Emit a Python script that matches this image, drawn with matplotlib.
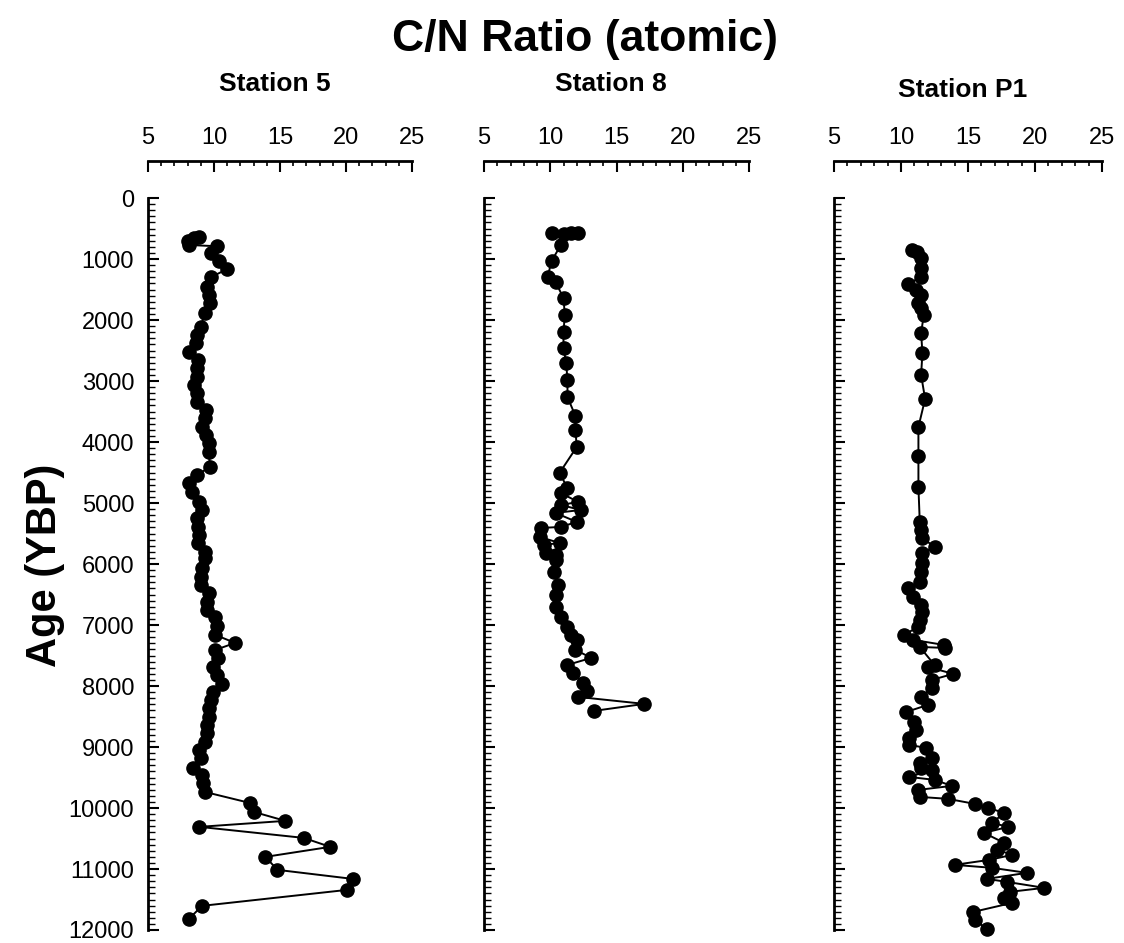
import matplotlib
matplotlib.use("Agg")
import matplotlib.pyplot as plt
from matplotlib.ticker import MultipleLocator, FixedLocator

plt.rcParams['font.family'] = ['Liberation Sans', 'DejaVu Sans']

# ---- data: (C/N ratio, age YBP) ----
st5_cn = [8.9, 8.5, 8.0, 8.1, 10.2, 9.8, 10.4, 11.0, 9.8, 9.5, 9.6, 9.7, 9.3, 9.0, 8.7, 8.6, 8.1,
          8.8, 8.7, 8.7, 8.5, 8.7, 8.7, 9.4, 9.3, 9.1, 9.4, 9.6, 9.6, 9.7, 8.7, 8.1, 8.3, 8.9,
          9.1, 8.7, 8.8, 8.9, 8.8, 9.3, 9.3, 9.1, 9.0, 9.0, 9.6, 9.5, 9.5, 10.1, 10.2, 10.1,
          11.6, 10.1, 10.3, 9.9, 10.2, 10.6, 9.9, 9.8, 9.6, 9.6, 9.5, 9.5, 9.3, 8.9, 9.0, 8.4,
          9.1, 9.2, 9.3, 12.7, 13.0, 15.4, 8.9, 16.8, 18.8, 13.9, 14.8, 20.5, 20.1, 9.1, 8.1]
st5_age = [640, 660, 700, 770, 790, 901, 1033, 1164, 1295, 1459, 1590, 1721, 1885, 2114, 2245,
           2377, 2524, 2655, 2786, 2934, 3065, 3196, 3343, 3475, 3606, 3753, 3884, 4015, 4163,
           4409, 4540, 4671, 4819, 4983, 5114, 5245, 5392, 5523, 5655, 5802, 5900, 6064, 6212,
           6343, 6474, 6622, 6753, 6867, 7015, 7162, 7294, 7408, 7539, 7687, 7818, 7965, 8097,
           8228, 8359, 8507, 8638, 8769, 8916, 9047, 9178, 9342, 9457, 9588, 9736, 9916, 10063,
           10211, 10309, 10490, 10637, 10801, 11014, 11162, 11342, 11604, 11817]

st8_cn = [10.1, 11.6, 12.1, 11.0, 10.8, 10.1, 9.8, 10.4, 11.0, 11.1, 11.0, 11.0, 11.2, 11.3,
          11.3, 11.9, 11.9, 12.0, 10.7, 11.3, 10.8, 12.1, 10.8, 12.3, 10.4, 12.0, 10.8, 9.3,
          9.2, 10.7, 9.5, 9.7, 10.4, 10.4, 10.3, 10.6, 10.4, 10.4, 10.8, 11.3, 11.6, 12.0,
          11.9, 13.1, 11.3, 11.7, 12.5, 12.8, 12.1, 17.1, 13.3]
st8_age = [570, 575, 580, 585, 770, 1033, 1295, 1377, 1639, 1918, 2196, 2459, 2704, 2983,
           3262, 3573, 3802, 4081, 4507, 4753, 4835, 4983, 5032, 5114, 5163, 5310, 5392, 5409,
           5556, 5655, 5687, 5818, 5851, 5933, 6130, 6343, 6507, 6703, 6867, 7031, 7162, 7244,
           7408, 7539, 7654, 7785, 7949, 8080, 8179, 8293, 8408]

stp1_cn = [10.8, 11.2, 11.5, 11.5, 11.5, 10.5, 11.1, 11.5, 11.3, 11.5, 11.7, 11.5, 11.6, 11.5,
           11.8, 11.3, 11.3, 11.3, 11.4, 11.5, 11.6, 12.5, 11.6, 11.6, 11.5, 11.4, 10.5, 10.9,
           11.5, 11.6, 11.4, 11.3, 10.2, 10.9, 13.2, 13.3, 11.4, 12.5, 12.0, 13.9, 12.3, 12.3,
           11.5, 12.0, 10.4, 11.0, 11.1, 10.6, 10.6, 11.9, 12.3, 11.4, 11.5, 12.3, 10.6, 12.5,
           13.8, 11.3, 11.4, 13.5, 15.5, 16.5, 17.7, 16.8, 18.0, 16.2, 17.7, 17.2, 18.3, 16.6,
           14.0, 16.8, 19.4, 16.4, 17.9, 20.7, 18.1, 17.7, 18.3, 15.4, 15.5, 16.4]
stp1_age = [852, 885, 983, 1147, 1295, 1410, 1508, 1590, 1721, 1803, 1918, 2213, 2540, 2901,
            3294, 3753, 4229, 4737, 5310, 5441, 5573, 5720, 5818, 5982, 6130, 6294, 6392, 6540,
            6671, 6785, 6916, 7031, 7162, 7244, 7326, 7376, 7359, 7654, 7687, 7801, 7900, 8031,
            8179, 8310, 8425, 8589, 8720, 8851, 8965, 9015, 9178, 9260, 9342, 9375, 9490, 9539,
            9637, 9703, 9818, 9850, 9932, 9998, 10080, 10244, 10309, 10408, 10572, 10686, 10768,
            10850, 10932, 10981, 11063, 11162, 11211, 11309, 11375, 11473, 11555, 11703, 11834,
            11981]

stations = ["Station 5", "Station 8", "Station P1"]
series = [(st5_cn, st5_age), (st8_cn, st8_age), (stp1_cn, stp1_age)]
x_ticks = [5, 10, 15, 20, 25]
y_ticks = list(range(0, 12001, 1000))
y_minor = list(range(0, 12001, 100))

W, H = 1124, 943
fig = plt.figure(figsize=(W / 100, H / 100), dpi=100)

panel_px = [(148, 264), (484, 265), (834, 268)]
top_px, bot_px = 161, 930
y_top = -607

for i, ((lx, w), name, (cn, age)) in enumerate(zip(panel_px, stations, series)):
    ax = fig.add_axes([lx / W, 1 - bot_px / H, w / W, (bot_px - top_px) / H])
    ax.plot(cn, age, '-', color='black', lw=1.4, marker='o', ms=9.5,
            mfc='black', mec='black', zorder=3, clip_on=False)
    ax.set_xlim(5, 25)
    ax.set_ylim(12000, y_top)
    ax.spines['bottom'].set_visible(False)
    ax.spines['right'].set_visible(False)
    ax.spines['left'].set_bounds(0, 12000)
    for s in ('top', 'left'):
        ax.spines[s].set_linewidth(2.0)
    ax.xaxis.set_ticks_position('top')
    ax.xaxis.set_label_position('top')
    ax.set_xticks(x_ticks)
    ax.xaxis.set_minor_locator(MultipleLocator(1))
    ax.set_yticks(y_ticks)
    ax.yaxis.set_minor_locator(FixedLocator(y_minor))
    ax.tick_params(axis='x', which='major', direction='in', length=8, width=1.5,
                   labelsize=17, pad=9)
    ax.tick_params(axis='x', which='minor', direction='in', length=3.5, width=1.2)
    ax.tick_params(axis='y', which='major', direction='in', length=8, width=1.5,
                   labelsize=17, pad=10)
    ax.tick_params(axis='y', which='minor', direction='in', length=5, width=1.0)
    if i > 0:
        ax.tick_params(axis='y', labelleft=False)
    cx = (lx + w / 2) / W
    ty = 84 if i < 2 else 90
    fig.text(cx - 0.005, 1 - ty / H, name, ha='center', va='center',
             fontsize=19, fontweight='bold')

fig.text(585 / W, 1 - 40 / H, "C/N Ratio (atomic)", ha='center', va='center',
         fontsize=32, fontweight='bold')
fig.text(45 / W, 1 - 565 / H, "Age (YBP)", ha='center', va='center', rotation=90,
         fontsize=30, fontweight='bold')

fig.savefig("out.png", dpi=100)
